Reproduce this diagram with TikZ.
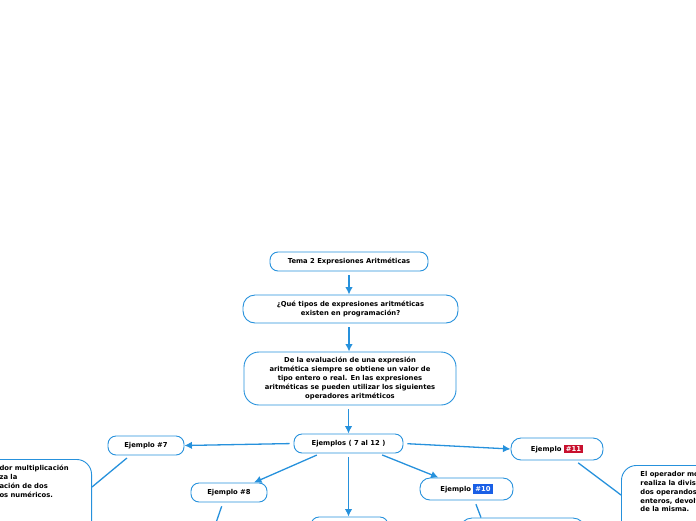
\documentclass[tikz,border=0pt]{standalone}
\usepackage{fontspec}
\setmainfont{DejaVu Sans}
\usetikzlibrary{arrows.meta}

\definecolor{mapblue}{RGB}{38,145,220}
\definecolor{tagred}{RGB}{200,16,46}
\definecolor{tagblue}{RGB}{25,95,230}
\newcommand{\numtag}[2]{{\setlength{\fboxsep}{2pt}\colorbox{#1}{\textcolor{white}{#2}}}}

\tikzset{
  topic/.style={draw=mapblue, line width=0.9pt, fill=white, rounded corners=8pt,
    align=center, inner sep=0pt, font=\bfseries\fontsize{6.8}{8.8}\selectfont},
  note/.style={topic, rounded corners=15pt, align=left, inner xsep=19pt, inner ysep=6pt},
  link/.style={draw=mapblue, line width=1.3pt, shorten <=4pt},
}

\begin{document}
\begin{tikzpicture}[x=1pt, y=-1pt, >={Latex[length=7.5pt,width=7.5pt]}]
  \useasboundingbox (0,0) rectangle (696,520);
  \clip (0,0) rectangle (696,520);

  % Nodos principales
  \node[topic, minimum width=158pt, minimum height=19pt] (tema) at (349,261.5) {Tema 2 Expresiones Aritméticas};
  \node[topic, minimum width=215pt, minimum height=28pt, rounded corners=12pt] (tipos) at (350.5,309) {¿Qué tipos de expresiones aritméticas\\existen en programación?};
  \node[topic, minimum width=212pt, minimum height=53pt, rounded corners=15pt] (eval) at (350,378.5) {De la evaluación de una expresión\\aritmética siempre se obtiene un valor de\\tipo entero o real. En las expresiones\\aritméticas se pueden utilizar los siguientes\\operadores aritméticos};
  \node[topic, minimum width=109pt, minimum height=19pt] (ejemplos) at (348.5,443.5) {Ejemplos ( 7 al 12 )};

  % Ejemplos
  \node[topic, minimum width=76pt, minimum height=19pt] (ej7) at (146,445.5) {Ejemplo \#7};
  \node[topic, minimum width=92pt, minimum height=22pt, rounded corners=10pt] (ej11) at (557,449) {Ejemplo \numtag{tagred}{\#11}};
  \node[topic, minimum width=76pt, minimum height=19pt] (ej8) at (229,492.5) {Ejemplo \#8};
  \node[topic, minimum width=93pt, minimum height=22pt, rounded corners=10pt] (ej10) at (466.5,489) {Ejemplo \numtag{tagblue}{\#10}};
  \node[topic, minimum width=77pt, minimum height=26pt] (ej9) at (349.5,530) {};
  \node[topic, minimum width=125pt, minimum height=44pt, rounded corners=12pt] (ej12) at (522.5,540) {};

  % Descripciones
  \node[note, anchor=north east] (mult) at (92,459) {\parbox[t][90pt][t]{73pt}{dor multiplicación\\za la\\ación de dos\\os numéricos.}};
  \node[note, anchor=north west] (modulo) at (621,465) {\parbox[t][90pt][t]{110pt}{El operador mod\\realiza la división de\\dos operandos\\enteros, devolviendo\\de la misma.}};
  \coordinate (ej8fin) at (208,546);

  % Conectores
  \draw[link, ->] (tema.south) -- (tema.south |- tipos.north);
  \draw[link, ->] ([xshift=-1.5pt]tipos.south) -- ([xshift=-1pt]eval.north);
  \draw[link, ->] ([xshift=-1.5pt]eval.south) -- (ejemplos.north);
  \draw[link, ->] (ejemplos.west) -- (ej7.east);
  \draw[link, ->] (ejemplos.east) -- (ej11.west);
  \draw[link, ->] ([xshift=-28pt]ejemplos.south) -- ([xshift=25pt]ej8.north);
  \draw[link, ->] ([xshift=30pt]ejemplos.south) -- ([xshift=-28pt]ej10.north);
  \draw[link, ->] (ejemplos.south) -- (ejemplos.south |- ej9.north);
  \draw[link] ([xshift=-16pt]ej7.south) -- ([yshift=-28pt]mult.north east);
  \draw[link] ([xshift=18pt]ej11.south) -- ([yshift=-30pt]modulo.north west);
  \draw[link] ([xshift=-6pt]ej8.south) -- (ej8fin);
  \draw[link] ([xshift=8pt]ej10.south) -- ([xshift=-41.5pt]ej12.north);
\end{tikzpicture}
\end{document}
